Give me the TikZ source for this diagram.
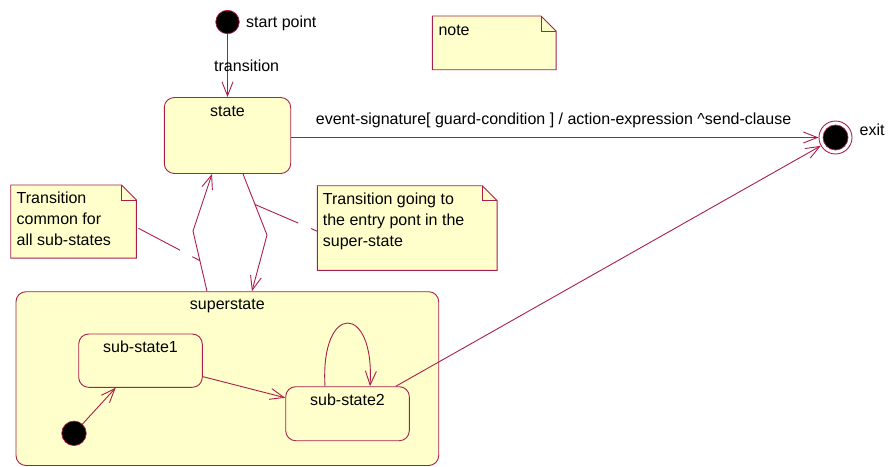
\documentclass[tikz,border=0pt]{standalone}
\usepackage{fontspec}
\setmainfont{Liberation Sans}
\usetikzlibrary{arrows.meta,calc}
\definecolor{umlline}{RGB}{170,30,75}
\definecolor{umlfill}{RGB}{255,255,204}
\begin{document}
\begin{tikzpicture}[x=1pt,y=-1pt,
  every node/.style={font=\fontsize{16}{21}\selectfont},
  box/.style={draw=umlline,fill=umlfill,line width=0.9pt,rounded corners=10pt,
    inner sep=0pt},
  notearea/.style={inner sep=0pt,anchor=north west},
  notefill/.style={draw=umlline,fill=umlfill,line width=0.9pt},
  lbl/.style={inner sep=0pt,text=black},
  dot/.style={circle,fill=black,draw=umlline,line width=0.7pt,inner sep=0pt},
  arr/.style={draw=umlline,line width=0.9pt,
    -{Straight Barb[length=14pt,width=11pt,line width=0.9pt]}},
  notelink/.style={draw=umlline,line width=0.9pt,dash pattern=on 47pt off 14pt}]

\useasboundingbox (0,0) rectangle (888,466);

% ---------- note shapes ----------
\node[notearea,minimum width=123.4pt,minimum height=53.3pt] (note) at (432.3,16) {};
\node[notearea,minimum width=125.3pt,minimum height=72.7pt] (nleft) at (10.7,185) {};
\node[notearea,minimum width=179.4pt,minimum height=84.3pt] (nright) at (317.3,185.7) {};
\foreach \n in {note,nleft,nright}{
  \draw[notefill] (\n.north west) -- ([xshift=-15pt]\n.north east)
    -- ([yshift=-15pt]\n.north east) -- (\n.south east) -- (\n.south west) -- cycle;
  \draw[draw=umlline,line width=0.9pt] ([xshift=-15pt]\n.north east)
    |- ([yshift=-15pt]\n.north east);
}
\node[lbl,anchor=base west] at (438.3,35) {note};
\node[lbl,anchor=north west,align=left] at (16.5,191.8)
  {Transition\\common for\\all sub-states};
\node[lbl,anchor=north west,align=left] at (322.7,192.8)
  {Transition going to\\the entry pont in the\\super-state};

% ---------- states ----------
\node[dot,minimum size=23.5pt] (start) at (227.5,22) {};
\node[lbl,anchor=base west] at (246,27.7) {start point};

\node[box,minimum width=126.4pt,minimum height=76pt] (state) at (227.5,135.5) {};
\node[lbl,anchor=base] at ([yshift=-19pt]state.north) {state};

\node[circle,draw=umlline,fill=white,line width=0.9pt,inner sep=0pt,
  minimum size=33pt] (exit) at (835.5,137.5) {};
\filldraw[fill=black,draw=umlline,line width=0.7pt] (exit.center) circle (12.5pt);
\node[lbl,anchor=base west] at (859.5,135) {exit};

\node[box,minimum width=422.7pt,minimum height=173.8pt] (super) at (227.35,378.6) {};
\node[lbl,anchor=base] at ([yshift=-18.5pt]super.north) {superstate};

\node[box,minimum width=123.6pt,minimum height=53.3pt] (sub1) at (140.5,360.65) {};
\node[lbl,anchor=base] at ([yshift=-18.5pt]sub1.north) {sub-state1};

\node[box,minimum width=123.6pt,minimum height=54pt] (sub2) at (347.5,413.7) {};
\node[lbl,anchor=base] at ([yshift=-19pt]sub2.north) {sub-state2};

\node[dot,minimum size=24.5pt] (init) at (74,433.3) {};

% ---------- transitions ----------
\draw[arr] (start) -- (state);
\node[lbl,anchor=base west] at (214,71.7) {transition};

\draw[arr] (state.east |- exit) -- (exit);
\node[lbl,anchor=base west] at (315.7,124)
  {event-signature[ guard-condition ] / action-expression \^{}send-clause};

\coordinate (kup) at (193,231);
\coordinate (kdown) at (267,235);
\coordinate (upfoot) at ([xshift=-20.35pt]super.north);
\coordinate (downtop) at ([xshift=15.5pt]state.south);
\draw[arr] (upfoot) -- (kup) -- ([xshift=-15.5pt]state.south);
\draw[arr] (downtop) -- (kdown) -- ([xshift=24.6pt]super.north);

\draw[arr] (init) -- (sub1);
\draw[arr] (sub1) -- (sub2);
\draw[arr] ([xshift=-22.5pt]sub2.north) .. controls +(-5,-84) and +(5,-84)
  .. ([xshift=22.5pt]sub2.north);
\draw[arr] (sub2) -- (exit);

% ---------- note anchors ----------
\coordinate (upmid) at ($(upfoot)!0.508!(kup)$);
\coordinate (downmid) at ($(downtop)!0.5!(kdown)$);
\draw[notelink] ([shift={(2pt,-6.7pt)}]nleft.east) -- (upmid);
\draw[notelink] (downmid) -- ([yshift=-3.2pt]nright.west);
\end{tikzpicture}
\end{document}
